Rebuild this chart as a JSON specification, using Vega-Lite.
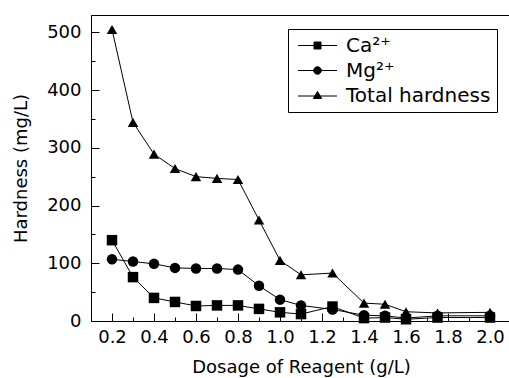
{
  "$schema": "https://vega.github.io/schema/vega-lite/v6.json",
  "autosize": {"type": "none"},
  "padding": {"left": 91, "top": 15, "right": 0, "bottom": 57},
  "width": 420,
  "height": 306,
  "background": "white",
  "config": {
    "view": {"stroke": "black", "strokeWidth": 1},
    "font": "DejaVu Sans",
    "axis": {"grid": false, "domainColor": "black", "tickColor": "black", "labelColor": "black", "titleColor": "black", "labelFont": "DejaVu Sans", "titleFont": "DejaVu Sans", "labelFontSize": 18, "titleFontSize": 18, "titleFontWeight": "normal", "tickWidth": 1}
  },
  "data": {"values": [
    {"dose": 0.2, "ion": "Ca²⁺", "value": 140},
    {"dose": 0.3, "ion": "Ca²⁺", "value": 76},
    {"dose": 0.4, "ion": "Ca²⁺", "value": 40},
    {"dose": 0.5, "ion": "Ca²⁺", "value": 33},
    {"dose": 0.6, "ion": "Ca²⁺", "value": 26},
    {"dose": 0.7, "ion": "Ca²⁺", "value": 27},
    {"dose": 0.8, "ion": "Ca²⁺", "value": 27},
    {"dose": 0.9, "ion": "Ca²⁺", "value": 21},
    {"dose": 1.0, "ion": "Ca²⁺", "value": 15},
    {"dose": 1.1, "ion": "Ca²⁺", "value": 12},
    {"dose": 1.25, "ion": "Ca²⁺", "value": 25},
    {"dose": 1.4, "ion": "Ca²⁺", "value": 5},
    {"dose": 1.5, "ion": "Ca²⁺", "value": 6},
    {"dose": 1.6, "ion": "Ca²⁺", "value": 3},
    {"dose": 1.75, "ion": "Ca²⁺", "value": 6},
    {"dose": 2.0, "ion": "Ca²⁺", "value": 6},
    {"dose": 0.2, "ion": "Mg²⁺", "value": 107},
    {"dose": 0.3, "ion": "Mg²⁺", "value": 103},
    {"dose": 0.4, "ion": "Mg²⁺", "value": 99},
    {"dose": 0.5, "ion": "Mg²⁺", "value": 92},
    {"dose": 0.6, "ion": "Mg²⁺", "value": 91},
    {"dose": 0.7, "ion": "Mg²⁺", "value": 91},
    {"dose": 0.8, "ion": "Mg²⁺", "value": 89},
    {"dose": 0.9, "ion": "Mg²⁺", "value": 61},
    {"dose": 1.0, "ion": "Mg²⁺", "value": 37},
    {"dose": 1.1, "ion": "Mg²⁺", "value": 27},
    {"dose": 1.25, "ion": "Mg²⁺", "value": 20},
    {"dose": 1.4, "ion": "Mg²⁺", "value": 10},
    {"dose": 1.5, "ion": "Mg²⁺", "value": 9},
    {"dose": 1.6, "ion": "Mg²⁺", "value": 5},
    {"dose": 1.75, "ion": "Mg²⁺", "value": 9},
    {"dose": 2.0, "ion": "Mg²⁺", "value": 9},
    {"dose": 0.2, "ion": "Total hardness", "value": 505},
    {"dose": 0.3, "ion": "Total hardness", "value": 344},
    {"dose": 0.4, "ion": "Total hardness", "value": 289},
    {"dose": 0.5, "ion": "Total hardness", "value": 264},
    {"dose": 0.6, "ion": "Total hardness", "value": 250},
    {"dose": 0.7, "ion": "Total hardness", "value": 247},
    {"dose": 0.8, "ion": "Total hardness", "value": 245},
    {"dose": 0.9, "ion": "Total hardness", "value": 175},
    {"dose": 1.0, "ion": "Total hardness", "value": 105},
    {"dose": 1.1, "ion": "Total hardness", "value": 80},
    {"dose": 1.25, "ion": "Total hardness", "value": 83},
    {"dose": 1.4, "ion": "Total hardness", "value": 31},
    {"dose": 1.5, "ion": "Total hardness", "value": 29},
    {"dose": 1.6, "ion": "Total hardness", "value": 16},
    {"dose": 1.75, "ion": "Total hardness", "value": 14},
    {"dose": 2.0, "ion": "Total hardness", "value": 15}
  ]},
  "encoding": {
    "x": {"field": "dose", "type": "quantitative",
      "scale": {"domain": [0.1, 2.1], "nice": false, "zero": false},
      "axis": {"title": "Dosage of Reagent (g/L)",
        "values": [0.2, 0.3, 0.4, 0.5, 0.6, 0.7, 0.8, 0.9, 1.0, 1.1, 1.2, 1.3, 1.4, 1.5, 1.6, 1.7, 1.8, 1.9, 2.0, 2.1],
        "labelExpr": "round(datum.value*10) % 2 === 0 && datum.value < 2.05 ? format(datum.value, '.1f') : ''",
        "tickSize": {"condition": {"test": "round(datum.value*10) % 2 === 0", "value": -8}, "value": -4},
        "labelPadding": 15, "titlePadding": 12, "labelFlush": false}},
    "y": {"field": "value", "type": "quantitative",
      "scale": {"domain": [0, 530], "nice": false},
      "axis": {"title": "Hardness (mg/L)",
        "values": [0, 50, 100, 150, 200, 250, 300, 350, 400, 450, 500],
        "labelExpr": "datum.value % 100 === 0 ? datum.value : ''",
        "tickSize": {"condition": {"test": "datum.value % 100 === 0", "value": -8}, "value": -4},
        "labelPadding": 18, "titlePadding": 16}}
  },
  "layer": [
    {"mark": {"type": "line", "strokeWidth": 1},
     "encoding": {
       "color": {"field": "ion", "type": "nominal",
         "scale": {"domain": ["Ca²⁺", "Mg²⁺", "Total hardness"], "range": ["black", "black", "black"]},
         "legend": {"title": null, "orient": "none", "legendX": 197, "legendY": 14,
           "strokeColor": "black", "fillColor": "white", "padding": 6,
           "labelFontSize": 20, "labelFont": "DejaVu Sans", "labelColor": "black",
           "symbolSize": 400, "symbolOffset": 13, "labelOffset": 18, "rowPadding": 4,
           "symbolStrokeWidth": 1,
           "encode": {"symbols": {
             "shape": {"value": {"expr": "datum.value === 'Ca²⁺' ? 'M-1.95,0L1.95,0M-0.35,-0.35L0.35,-0.35L0.35,0.35L-0.35,0.35Z' : datum.value === 'Mg²⁺' ? 'M-1.95,0L1.95,0M-0.38,0A0.38,0.38,0,1,1,0.38,0A0.38,0.38,0,1,1,-0.38,0Z' : 'M-1.95,0.05L1.95,0.05M0,-0.4L0.42,0.3L-0.42,0.3Z'"}},
             "fill": {"value": "black"}, "strokeWidth": {"value": 1}, "opacity": {"value": 1}}},
           "encoding": {"symbols": {
             "shape": {"value": {"expr": "datum.value === 'Ca²⁺' ? 'M-1.95,0L1.95,0M-0.35,-0.35L0.35,-0.35L0.35,0.35L-0.35,0.35Z' : datum.value === 'Mg²⁺' ? 'M-1.95,0L1.95,0M-0.38,0A0.38,0.38,0,1,1,0.38,0A0.38,0.38,0,1,1,-0.38,0Z' : 'M-1.95,0.05L1.95,0.05M0,-0.4L0.42,0.3L-0.42,0.3Z'"}},
             "fill": {"value": "black"}, "strokeWidth": {"value": 1}, "opacity": {"value": 1}}}}}}},
    {"transform": [{"calculate": "datum.ion", "as": "marker"}],
     "mark": {"type": "point", "filled": true, "color": "black", "opacity": 1, "size": 110},
     "encoding": {"shape": {"field": "marker", "type": "nominal",
       "scale": {"range": ["square", "circle", "triangle-up"]},
       "legend": null}}}
  ]
}
